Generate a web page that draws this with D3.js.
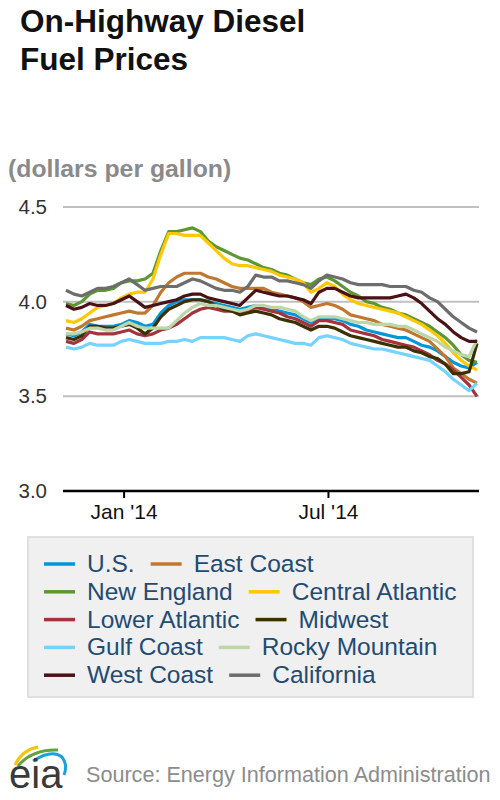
<!DOCTYPE html>
<html>
<head>
<meta charset="utf-8">
<script src="https://cdn.jsdelivr.net/npm/d3@7"></script>
<style>
  body { margin: 0; background: #fff; }
  text { font-family: "Liberation Sans", Arial, sans-serif; }
</style>
</head>
<body>
<div id="chart"></div>
<script>
// Width and height
const w = 500;
const h = 800;

// weekly dates, Mondays from Nov 11 2013 to Nov 10 2014
const weeks = d3.timeMonday.range(new Date(2013, 10, 11), new Date(2014, 10, 11));

const seriesNames = ["U.S.", "East Coast", "New England", "Central Atlantic", "Lower Atlantic",
  "Midwest", "Gulf Coast", "Rocky Mountain", "West Coast", "California"];

const usValues = [3.83,3.82,3.84,3.88,3.87,3.87,3.87,3.88,3.90,3.89,3.87,3.88,3.94,3.98,4.00,4.01,4.01,4.01,4.00,3.99,3.98,3.97,3.96,3.97,3.98,3.97,3.96,3.95,3.94,3.93,3.91,3.89,3.91,3.91,3.91,3.90,3.88,3.87,3.85,3.84,3.83,3.82,3.81,3.81,3.79,3.77,3.76,3.74,3.71,3.68,3.66,3.65,3.68];
const eastCoastValues = [3.86,3.85,3.87,3.90,3.91,3.92,3.93,3.94,3.95,3.94,3.94,3.98,4.05,4.10,4.13,4.15,4.15,4.15,4.13,4.12,4.10,4.08,4.07,4.07,4.07,4.07,4.05,4.04,4.03,4.02,4.00,3.97,3.98,3.99,3.98,3.96,3.93,3.92,3.91,3.90,3.88,3.87,3.86,3.85,3.83,3.81,3.79,3.75,3.71,3.65,3.62,3.59,3.57];
const newEnglandValues = [3.99,3.98,4.00,4.04,4.06,4.06,4.07,4.10,4.11,4.11,4.12,4.15,4.27,4.37,4.37,4.38,4.39,4.37,4.32,4.29,4.27,4.25,4.23,4.22,4.20,4.18,4.17,4.15,4.14,4.12,4.10,4.09,4.12,4.13,4.11,4.08,4.05,4.03,4.00,3.99,3.97,3.96,3.94,3.93,3.91,3.89,3.87,3.84,3.81,3.77,3.72,3.69,3.68];
const centralAtlanticValues = [3.90,3.89,3.91,3.94,3.97,3.98,3.99,4.02,4.04,4.05,4.05,4.12,4.25,4.36,4.36,4.35,4.35,4.35,4.31,4.27,4.23,4.20,4.19,4.19,4.18,4.17,4.16,4.14,4.13,4.12,4.10,4.05,4.07,4.10,4.08,4.04,4.01,3.99,3.98,3.97,3.96,3.95,3.94,3.92,3.90,3.88,3.85,3.82,3.78,3.73,3.69,3.66,3.64];
const lowerAtlanticValues = [3.79,3.78,3.80,3.84,3.83,3.83,3.83,3.84,3.85,3.83,3.82,3.83,3.85,3.86,3.88,3.91,3.94,3.96,3.97,3.96,3.95,3.95,3.94,3.95,3.97,3.96,3.95,3.94,3.92,3.91,3.89,3.87,3.90,3.90,3.89,3.88,3.85,3.84,3.83,3.82,3.80,3.79,3.78,3.77,3.76,3.74,3.72,3.69,3.67,3.64,3.60,3.56,3.50];
const midwestValues = [3.81,3.80,3.82,3.87,3.87,3.86,3.86,3.87,3.88,3.86,3.83,3.86,3.92,3.96,3.98,4.00,4.01,4.01,4.00,3.98,3.96,3.95,3.93,3.94,3.95,3.94,3.93,3.91,3.90,3.89,3.87,3.85,3.87,3.87,3.86,3.84,3.82,3.81,3.80,3.79,3.78,3.77,3.76,3.76,3.74,3.73,3.71,3.70,3.67,3.62,3.62,3.63,3.78];
const gulfCoastValues = [3.76,3.75,3.76,3.78,3.77,3.77,3.77,3.79,3.80,3.79,3.78,3.78,3.78,3.79,3.79,3.80,3.79,3.81,3.81,3.81,3.81,3.80,3.79,3.82,3.83,3.82,3.81,3.80,3.79,3.78,3.78,3.77,3.81,3.82,3.81,3.80,3.78,3.77,3.76,3.75,3.75,3.74,3.73,3.72,3.71,3.70,3.69,3.66,3.63,3.59,3.56,3.53,3.57];
const rockyMountainValues = [3.83,3.83,3.84,3.86,3.86,3.85,3.85,3.87,3.89,3.87,3.86,3.86,3.86,3.86,3.90,3.94,3.97,3.99,3.98,3.98,3.97,3.96,3.95,3.96,3.98,3.98,3.97,3.97,3.96,3.95,3.92,3.90,3.92,3.92,3.92,3.91,3.90,3.89,3.89,3.88,3.88,3.88,3.87,3.87,3.85,3.83,3.81,3.79,3.76,3.74,3.72,3.71,3.80];
const westCoastValues = [3.98,3.96,3.97,3.99,3.98,3.98,3.99,4.01,4.03,4.00,3.97,3.98,3.99,4.00,4.01,4.03,4.04,4.04,4.02,4.01,4.00,3.99,3.98,4.02,4.06,4.05,4.04,4.03,4.03,4.02,4.01,3.99,4.05,4.07,4.07,4.05,4.03,4.02,4.02,4.02,4.02,4.02,4.03,4.04,4.02,3.99,3.95,3.91,3.88,3.84,3.81,3.79,3.79];
const californiaValues = [4.06,4.04,4.03,4.05,4.07,4.07,4.08,4.10,4.12,4.09,4.06,4.07,4.08,4.08,4.08,4.10,4.12,4.11,4.09,4.07,4.06,4.06,4.05,4.08,4.14,4.13,4.13,4.11,4.11,4.10,4.09,4.07,4.11,4.14,4.13,4.12,4.10,4.09,4.09,4.09,4.09,4.08,4.08,4.08,4.06,4.05,4.02,4.00,3.96,3.92,3.89,3.86,3.84];

const yTicks = [3.0, 3.5, 4.0, 4.5];
const xTicks = [new Date(2014, 0, 1), new Date(2014, 6, 1)];

const allValues = [usValues, eastCoastValues, newEnglandValues, centralAtlanticValues, lowerAtlanticValues,
  midwestValues, gulfCoastValues, rockyMountainValues, westCoastValues, californiaValues];
const colors = ["#0096d7", "#c0772f", "#5d9732", "#ffc800", "#a3333f",
  "#3d3000", "#75d3fe", "#bcd6a8", "#4a1117", "#6d6d6d"];

const dataset = seriesNames.map((name, i) => ({
  name: name,
  color: colors[i],
  values: weeks.map((d, j) => ({date: d, value: allValues[i][j]}))
}));

// create SVG element
const svg = d3.select("div#chart")
  .append("svg")
    .attr("width", w)
    .attr("height", h);

svg.append("rect")
  .attr("width", w)
  .attr("height", h)
  .attr("fill", "#fff");

// title
svg.append("text")
  .attr("x", 20).attr("y", 32)
  .attr("font-size", 31.5).attr("font-weight", "bold").attr("fill", "#111")
  .text("On-Highway Diesel");
svg.append("text")
  .attr("x", 20).attr("y", 70)
  .attr("font-size", 31.5).attr("font-weight", "bold").attr("fill", "#111")
  .text("Fuel Prices");

// units
svg.append("text")
  .attr("x", 8).attr("y", 177)
  .attr("font-size", 24.8).attr("font-weight", "bold").attr("fill", "#8a8a8a")
  .text("(dollars per gallon)");

// scales
const xScale = d3.scaleTime()
  .domain([weeks[0], weeks[weeks.length - 1]])
  .range([66, 477]);

const yScale = d3.scaleLinear()
  .domain([3.0, 4.5])
  .range([491, 207]);

const plot = svg.append("g").attr("id", "plot");

// horizontal gridlines
plot.selectAll("line.horizontal")
  .data(yTicks.filter(d => d > 3.0))
  .enter()
  .append("line")
  .attr("class", "horizontal")
  .attr("x1", 63)
  .attr("x2", 479)
  .attr("y1", d => yScale(d))
  .attr("y2", d => yScale(d))
  .attr("stroke", "#c0c0c0")
  .attr("stroke-width", 2);

// y-axis labels
const yAxis = d3.axisLeft(yScale)
  .tickValues(yTicks)
  .tickFormat(d3.format(".1f"))
  .tickSize(0)
  .tickPadding(0);

plot.append("g")
  .attr("transform", "translate(47, 0)")
  .call(yAxis)
  .call(g => g.select(".domain").remove())
  .call(g => g.selectAll("text")
    .attr("font-family", "Liberation Sans, Arial, sans-serif")
    .attr("font-size", 20.5)
    .attr("fill", "#333"));

// lines
const line = d3.line()
  .x(d => xScale(d.date))
  .y(d => yScale(d.value));

plot.selectAll("path.series")
  .data(dataset)
  .enter()
  .append("path")
  .attr("class", "series")
  .attr("d", d => line(d.values))
  .attr("fill", "none")
  .attr("stroke", d => d.color)
  .attr("stroke-width", 3.2)
  .attr("stroke-linejoin", "round");

// x-axis baseline
plot.append("line")
  .attr("x1", 63).attr("x2", 479)
  .attr("y1", yScale(3.0)).attr("y2", yScale(3.0))
  .attr("stroke", "#000")
  .attr("stroke-width", 2.5);

const xAxis = d3.axisBottom(xScale)
  .tickValues(xTicks)
  .tickFormat(d3.timeFormat("%b '%y"))
  .tickSize(7)
  .tickPadding(6);

plot.append("g")
  .attr("transform", `translate(0, ${yScale(3.0)})`)
  .call(xAxis)
  .call(g => g.select(".domain").remove())
  .call(g => g.selectAll(".tick line").attr("stroke", "#000").attr("stroke-width", 2))
  .call(g => g.selectAll("text")
    .attr("font-family", "Liberation Sans, Arial, sans-serif")
    .attr("font-size", 21)
    .attr("fill", "#111"));

// legend
const legend = svg.append("g").attr("id", "legend");

legend.append("rect")
  .attr("x", 28).attr("y", 537)
  .attr("width", 445).attr("height", 160)
  .attr("fill", "#f0f0f0")
  .attr("stroke", "#e0e0e0")
  .attr("stroke-width", 2);

for (let r = 0; r < 5; r++) {
  const base = 572 + r * 27.8;
  let x = 44;
  for (let c = 0; c < 2; c++) {
    const d = dataset[r * 2 + c];
    legend.append("line")
      .attr("x1", x).attr("x2", x + 31)
      .attr("y1", base - 8).attr("y2", base - 8)
      .attr("stroke", d.color)
      .attr("stroke-width", 3.5);
    const t = legend.append("text")
      .attr("x", x + 43).attr("y", base)
      .attr("font-size", 24.5)
      .attr("fill", "#234b70")
      .text(d.name);
    x = x + 43 + t.node().getComputedTextLength() + 16;
  }
}

// footer logo
const logo = svg.append("g").attr("id", "logo");
logo.append("path")
  .attr("d", "M15,765 Q22,750 38,747")
  .attr("fill", "none").attr("stroke", "#f5c400").attr("stroke-width", 3);
logo.append("path")
  .attr("d", "M18,766 Q32,749 58,750")
  .attr("fill", "none").attr("stroke", "#62a23a").attr("stroke-width", 3);
logo.append("path")
  .attr("d", "M33,761 Q52,749 62,757 Q68,765 64,775")
  .attr("fill", "none").attr("stroke", "#1aa0dc").attr("stroke-width", 3);
logo.append("text")
  .attr("x", 9).attr("y", 788)
  .attr("font-family", "Liberation Serif, Times New Roman, serif")
  .attr("font-size", 40)
  .attr("fill", "#3a3a3a")
  .text("eia");

svg.append("text")
  .attr("x", 86).attr("y", 782)
  .attr("font-size", 21.6)
  .attr("fill", "#8c8c8c")
  .text("Source: Energy Information Administration");
</script>
</body>
</html>
